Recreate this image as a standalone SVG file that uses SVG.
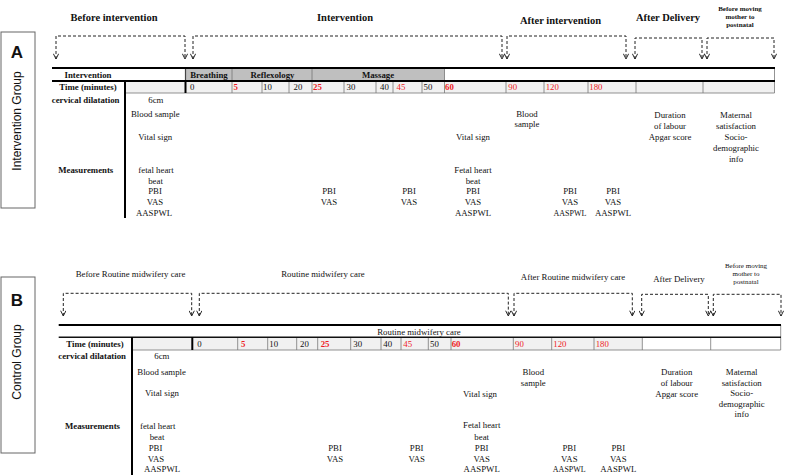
<svg xmlns="http://www.w3.org/2000/svg" width="787" height="476" viewBox="0 0 787 476">
<style>
text{font-family:"Liberation Serif","Times New Roman",serif;fill:#111;font-size:8.8px}
.b{font-weight:bold}
.m{text-anchor:middle}
.e{text-anchor:end}
.r{fill:#ee1c25}
.h{font-size:10.5px;font-weight:bold;text-anchor:middle}
.hb{font-size:8.8px;text-anchor:middle}
.sm{font-size:7px;text-anchor:middle}
.side{fill:#fff;stroke:#666;stroke-width:1}
.lbl{font-family:"Liberation Sans",Arial,sans-serif;font-weight:bold;font-size:17px;text-anchor:middle}
.grp{font-family:"Liberation Sans",Arial,sans-serif;font-size:12px;text-anchor:middle}
.br{fill:none;stroke:#222;stroke-width:1;stroke-dasharray:3 2;marker-start:url(#arr);marker-end:url(#arr)}
.c1{fill:#bfbfbf}
.c2{fill:#f1f1f1}
.thin{stroke:#777;stroke-width:0.8}
.thick{stroke:#000;stroke-width:2}
</style>
<defs>
<marker id="arr" viewBox="0 0 8 8" refX="7.5" refY="4" markerWidth="6" markerHeight="6" markerUnits="userSpaceOnUse" orient="auto-start-reverse">
<path d="M0.5,0.5 L7.5,4 L0.5,7.5" fill="none" stroke="#222" stroke-width="1.3"/>
</marker>
</defs>
<rect width="787" height="476" fill="#fff"/>

<!-- Panel A side label -->
<g id="panel-a-label">
<rect class="side" x="1" y="32" width="34" height="176"/>
<text class="lbl" x="17" y="57.7">A</text>
<text class="grp" transform="translate(21,121) rotate(-90)">Intervention Group</text>
</g>

<g id="phase-headers-a">
<text class="h" x="114" y="20.5">Before intervention</text>
<text class="h" x="345" y="20.5">Intervention</text>
<text class="h" x="560.5" y="23.5">After intervention</text>
<text class="h" x="668" y="20.5">After Delivery</text>
<text class="sm b" x="740" y="10.5">Before moving</text>
<text class="sm b" x="740" y="18.5">mother to</text>
<text class="sm b" x="740" y="26.5">postnatal</text>
</g>

<g id="connectors-a">
<path class="br" d="M56,59 V36 H185 V59"/>
<path class="br" d="M193,59 V36 H502 V59"/>
<path class="br" d="M507,59 V36 H626 V59"/>
<path class="br" d="M635,59 V38 H702 V59"/>
<path class="br" d="M707,59 V38 H774 V59"/>
</g>

<g id="table-a">
<rect class="c1" x="185.5" y="68" width="259" height="13"/>
<rect class="c2" x="125" y="81" width="649" height="12"/>
<g class="thin">
<line x1="232" y1="68" x2="232" y2="81"/>
<line x1="312" y1="68" x2="312" y2="81"/>
<line x1="444.5" y1="68" x2="444.5" y2="81"/>
<line x1="774.5" y1="68" x2="774.5" y2="93"/>
<line x1="125" y1="93" x2="774.5" y2="93"/>
<line x1="232" y1="81" x2="232" y2="93"/>
<line x1="262" y1="81" x2="262" y2="93"/>
<line x1="289" y1="81" x2="289" y2="93"/>
<line x1="312" y1="81" x2="312" y2="93"/>
<line x1="344" y1="81" x2="344" y2="93"/>
<line x1="376" y1="81" x2="376" y2="93"/>
<line x1="393" y1="81" x2="393" y2="93"/>
<line x1="422" y1="81" x2="422" y2="93"/>
<line x1="444.5" y1="81" x2="444.5" y2="93"/>
<line x1="506" y1="81" x2="506" y2="93"/>
<line x1="544" y1="81" x2="544" y2="93"/>
<line x1="588" y1="81" x2="588" y2="93"/>
<line x1="636" y1="81" x2="636" y2="93"/>
<line x1="703" y1="81" x2="703" y2="93"/>
</g>
<line x1="185.5" y1="68" x2="185.5" y2="81" stroke="#444" stroke-width="1.2"/>
<line class="thick" x1="52" y1="68" x2="775" y2="68"/>
<line class="thick" x1="52" y1="81" x2="775" y2="81" stroke-width="2.4"/>
<line class="thick" x1="125" y1="81" x2="125" y2="218"/>
<line class="thick" x1="185.5" y1="81" x2="185.5" y2="93"/>
<text class="b m" x="88" y="78">Intervention</text>
<text class="b m" x="209" y="78">Breathing</text>
<text class="b m" x="272.5" y="78">Reflexology</text>
<text class="b m" x="378" y="78">Massage</text>
<text class="b m" x="88" y="90.3">Time (minutes)</text>
<text x="190" y="90.3">0</text>
<text class="r b" x="233.5" y="90.3">5</text>
<text x="263" y="90.3">10</text>
<text x="293.5" y="90.3">20</text>
<text class="r b" x="313" y="90.3">25</text>
<text x="346.5" y="90.3">30</text>
<text x="380" y="90.3">40</text>
<text class="r" x="396.5" y="90.3">45</text>
<text x="423.5" y="90.3">50</text>
<text class="r b" x="445" y="90.3">60</text>
<text class="r" x="508.3" y="90.3">90</text>
<text class="r" x="545.7" y="90.3">120</text>
<text class="r" x="589.3" y="90.3">180</text>
</g>

<g id="measurements-a">
<text class="b e" x="119.5" y="102.5">cervical dilatation</text>
<text x="148.3" y="102.5">6cm</text>
<text x="131" y="117">Blood sample</text>
<text x="138.3" y="140">Vital sign</text>
<text class="b e" x="113.3" y="173">Measurements</text>
<text x="138.3" y="173">fetal heart</text>
<text class="m" x="155.5" y="183.7">beat</text>
<text class="m" x="155" y="194">PBI</text>
<text class="m" x="155" y="205">VAS</text>
<text class="m" x="154" y="215.7">AASPWL</text>
<text class="m" x="329" y="194">PBI</text>
<text class="m" x="329" y="205">VAS</text>
<text class="m" x="409" y="194">PBI</text>
<text class="m" x="409" y="205">VAS</text>
<text class="m" x="527" y="117">Blood</text>
<text class="m" x="527" y="127.3">sample</text>
<text class="m" x="473" y="140">Vital sign</text>
<text class="m" x="473" y="173">Fetal heart</text>
<text class="m" x="473" y="183.7">beat</text>
<text class="m" x="473" y="194">PBI</text>
<text class="m" x="473" y="205">VAS</text>
<text class="m" x="473" y="215.7">AASPWL</text>
<text class="m" x="570" y="194">PBI</text>
<text class="m" x="570" y="205">VAS</text>
<text class="m" x="570" y="215.7" style="font-size:8px">AASPWL</text>
<text class="m" x="613" y="194">PBI</text>
<text class="m" x="613" y="205">VAS</text>
<text class="m" x="613" y="215.7">AASPWL</text>
<text class="m" x="670" y="118">Duration</text>
<text class="m" x="670" y="129">of labour</text>
<text class="m" x="670" y="140">Apgar score</text>
<text class="m" x="736" y="118">Maternal</text>
<text class="m" x="736" y="129">satisfaction</text>
<text class="m" x="736" y="140">Socio-</text>
<text class="m" x="736" y="151">demographic</text>
<text class="m" x="736" y="161.5">info</text>
</g>

<!-- Panel B -->
<g id="panel-b-label">
<rect class="side" x="1" y="277" width="34" height="176"/>
<text class="lbl" x="17" y="306">B</text>
<text class="grp" transform="translate(21,362) rotate(-90)">Control Group</text>
</g>

<g id="phase-headers-b">
<text class="hb" x="130.5" y="277">Before Routine midwifery care</text>
<text class="hb" x="323" y="276.5">Routine midwifery care</text>
<text class="hb" x="573" y="280">After Routine midwifery care</text>
<text class="hb" x="679" y="281.5">After Delivery</text>
<text class="sm" x="746" y="268">Before moving</text>
<text class="sm" x="746" y="276">mother to</text>
<text class="sm" x="746" y="284">postnatal</text>
</g>

<g id="connectors-b">
<path class="br" d="M63.3,316 V293.3 H191.7 V316"/>
<path class="br" d="M199.3,316 V293.3 H508.3 V316"/>
<path class="br" d="M514,316 V293.3 H632.3 V316"/>
<path class="br" d="M641.7,316 V294.3 H708.3 V316"/>
<path class="br" d="M713.3,316 V294.3 H781 V316"/>
</g>

<g id="table-b">
<rect class="c2" x="132" y="337.3" width="510.3" height="12.7"/>
<g class="thin">
<line x1="780.7" y1="325" x2="780.7" y2="350"/>
<line x1="132" y1="350" x2="780.7" y2="350"/>
<line x1="237.7" y1="337" x2="237.7" y2="350"/>
<line x1="267.7" y1="337" x2="267.7" y2="350"/>
<line x1="296.7" y1="337" x2="296.7" y2="350"/>
<line x1="317.7" y1="337" x2="317.7" y2="350"/>
<line x1="350.7" y1="337" x2="350.7" y2="350"/>
<line x1="381" y1="337" x2="381" y2="350"/>
<line x1="401" y1="337" x2="401" y2="350"/>
<line x1="428.3" y1="337" x2="428.3" y2="350"/>
<line x1="451" y1="337" x2="451" y2="350"/>
<line x1="513.3" y1="337" x2="513.3" y2="350"/>
<line x1="551.7" y1="337" x2="551.7" y2="350"/>
<line x1="594" y1="337" x2="594" y2="350"/>
<line x1="642.3" y1="337" x2="642.3" y2="350"/>
<line x1="710.7" y1="337" x2="710.7" y2="350"/>
</g>
<line class="thick" x1="58.7" y1="325" x2="781" y2="325" stroke-width="2.4"/>
<line x1="58.7" y1="337.3" x2="781" y2="337.3" stroke="#111" stroke-width="1.5"/>
<line class="thick" x1="132" y1="337" x2="132" y2="475"/>
<line class="thick" x1="192.3" y1="337" x2="192.3" y2="350"/>
<text class="m" x="419" y="334.5">Routine midwifery care</text>
<text class="b m" x="95" y="347">Time (minutes)</text>
<text x="197.3" y="347">0</text>
<text class="r b" x="241" y="347">5</text>
<text x="269.3" y="347">10</text>
<text x="300" y="347">20</text>
<text class="r b" x="320.7" y="347">25</text>
<text x="353.3" y="347">30</text>
<text x="383.3" y="347">40</text>
<text class="r" x="403.3" y="347">45</text>
<text x="430" y="347">50</text>
<text class="r b" x="451.7" y="347">60</text>
<text class="r" x="515" y="347">90</text>
<text class="r" x="553.3" y="347">120</text>
<text class="r" x="595.7" y="347">180</text>
</g>

<g id="measurements-b">
<text class="b e" x="126" y="359">cervical dilatation</text>
<text x="154.3" y="359">6cm</text>
<text x="137.3" y="374.7">Blood sample</text>
<text x="145" y="396.3">Vital sign</text>
<text class="b e" x="120" y="429">Measurements</text>
<text x="140" y="429">fetal heart</text>
<text class="m" x="157" y="439.7">beat</text>
<text class="m" x="155.5" y="450.7">PBI</text>
<text class="m" x="156" y="461.7">VAS</text>
<text class="m" x="162" y="472.3">AASPWL</text>
<text class="m" x="335" y="450.7">PBI</text>
<text class="m" x="335" y="461.7">VAS</text>
<text class="m" x="416.7" y="450.7">PBI</text>
<text class="m" x="416.7" y="461.7">VAS</text>
<text class="m" x="533.3" y="374.7">Blood</text>
<text class="m" x="533.3" y="385.7">sample</text>
<text class="m" x="480" y="397">Vital sign</text>
<text class="m" x="481.7" y="428">Fetal heart</text>
<text class="m" x="481.7" y="439.7">beat</text>
<text class="m" x="481.7" y="450.7">PBI</text>
<text class="m" x="481.7" y="461.7">VAS</text>
<text class="m" x="481.7" y="472.3">AASPWL</text>
<text class="m" x="569.3" y="450.7">PBI</text>
<text class="m" x="569.3" y="461.7">VAS</text>
<text class="m" x="569.3" y="472.3" style="font-size:8px">AASPWL</text>
<text class="m" x="618.3" y="450.7">PBI</text>
<text class="m" x="618.3" y="461.7">VAS</text>
<text class="m" x="618.3" y="472.3">AASPWL</text>
<text class="m" x="676.7" y="374.7">Duration</text>
<text class="m" x="676.7" y="385.7">of labour</text>
<text class="m" x="676.7" y="396.7">Apgar score</text>
<text class="m" x="741.7" y="374.7">Maternal</text>
<text class="m" x="741.7" y="385.7">satisfaction</text>
<text class="m" x="741.7" y="396.3">Socio-</text>
<text class="m" x="741.7" y="407.3">demographic</text>
<text class="m" x="741.7" y="417.3">info</text>
</g>
</svg>
